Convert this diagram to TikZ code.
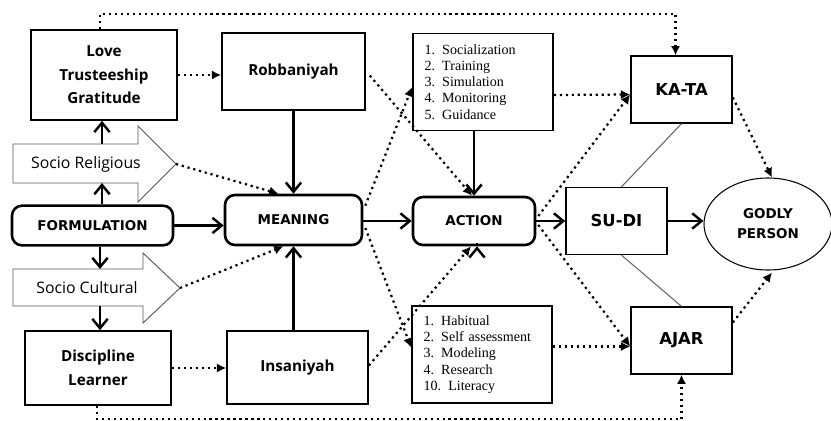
\documentclass[tikz,border=0pt]{standalone}
\usepackage{fontspec}
\setmainfont{Liberation Serif}
\newfontfamily\lblfont{Open Sans}
\newfontfamily\keyfont{DejaVu Sans}
\usetikzlibrary{arrows.meta,shapes.geometric,calc}
\tikzset{
    box/.style={
        draw,
        line width=1.4pt,
        align=center,
        font=\lblfont\bfseries\fontsize{13}{20}\selectfont
    },
    roundbox/.style={
        draw,
        line width=2.2pt,
        rounded corners=3mm,
        align=center,
        font=\keyfont\bfseries\fontsize{11.5}{14}\selectfont
    },
    listbox/.style={
        draw,
        line width=1.4pt,
        align=left,
        text width=3.5cm,
        inner xsep=0.35cm,
        minimum height=2.92cm,
        font=\fontsize{12}{13.8}\selectfont
    },
    keybox/.style={
        draw,
        line width=1.4pt,
        minimum width=3.03cm,
        minimum height=2cm,
        font=\keyfont\bfseries\fontsize{14}{17}\selectfont
    },
    bigarrow/.style={draw=black!65, line width=0.8pt, fill=white},
    sidelbl/.style={font=\lblfont\fontsize{13.5}{15}\selectfont},
    flow/.style={-{Straight Barb[length=2.8mm,width=4.6mm]}, line width=2.1pt},
    dotflow/.style={-{Latex[length=2.8mm,width=2.8mm]}, line width=1.9pt,
        dash pattern=on 1.9pt off 3.2pt},
    link/.style={draw=black!60, line width=0.9pt}
}

\begin{document}
\begin{tikzpicture}[x=0.03cm, y=-0.03cm]
    \useasboundingbox (0,0) rectangle (831,421);
    % left column
    \node[box, minimum width=4.38cm, minimum height=2.7cm] (love) at (104,75)
        {Love\\Trusteeship\\Gratitude};
    \draw[bigarrow] (13,144) -- (138,144) -- (138,126) -- (176,164) -- (138,202)
        -- (138,183) -- (13,183) -- cycle;
    \node[sidelbl] (srel) at (86,164) {Socio Religious};
    \coordinate (srelbot) at (102,183);
    \coordinate (sreltop) at (102,144);
    \coordinate (sreltip) at (176,164);
    \node[roundbox, minimum width=4.83cm, minimum height=1.19cm] (form) at (92.5,225.5)
        {FORMULATION};
    \draw[bigarrow] (13,269) -- (143,269) -- (143,253) -- (180,288) -- (143,323)
        -- (143,306) -- (13,306) -- cycle;
    \node[sidelbl] (scult) at (87,288) {Socio Cultural};
    \coordinate (sculttop) at (100,269);
    \coordinate (scultbot) at (100,306);
    \coordinate (sculttip) at (180,288);
    \node[box, minimum width=4.38cm, minimum height=2.22cm] (disc) at (98,368)
        {Discipline\\Learner};
    % second column
    \node[box, minimum width=4.29cm, minimum height=2.31cm] (robb) at (293.5,71.5)
        {Robbaniyah};
    \node[roundbox, minimum width=4.11cm, minimum height=1.5cm] (meaning) at (293.5,220)
        {MEANING};
    \node[box, minimum width=4.23cm, minimum height=2.19cm] (insan) at (297.5,367.5)
        {Insaniyah};
    % third column
    \node[listbox] (ltop) at (483,82)
        {1. Socialization\\2. Training\\3. Simulation\\4. Monitoring\\5. Guidance};
    \node[roundbox, minimum width=3.66cm, minimum height=1.44cm] (action) at (474,221)
        {ACTION};
    \node[listbox] (lbot) at (482,354.5)
        {1. Habitual\\2. Self assessment\\3. Modeling\\4. Research\\10. Literacy};
    % right part
    \node[keybox] (kata) at (681.5,89.5) {KA-TA};
    \node[keybox] (sudi) at (616.5,221) {SU-DI};
    \node[keybox] (ajar) at (681.5,340.5) {AJAR};
    \node[draw, ellipse, line width=0.9pt, minimum width=3.84cm, minimum height=2.76cm,
        align=center, font=\keyfont\bfseries\fontsize{11.5}{17}\selectfont] (godly) at (768,224)
        {GODLY\\PERSON};

    % solid connectors
    \draw[flow] (form.north -| srelbot) -- (srelbot);
    \draw[flow] (sreltop) -- (sreltop |- love.south);
    \draw[flow] (form.south -| sculttop) -- (sculttop);
    \draw[flow] (scultbot) -- (scultbot |- disc.north);
    \draw[flow] (robb.south) -- (meaning.north);
    \draw[flow] (form.east) -- (form.east -| meaning.west);
    \draw[flow] (meaning.south |- insan.north) -- (meaning.south);
    \draw[flow] (meaning.east |- action.west) -- (action.west);
    \draw[flow] (action.north |- ltop.south) -- (action.north);
    \draw[flow] ($(action.south)+(3,0)$ |- lbot.north) -- ($(action.south)+(3,0)$);
    \draw[flow] (action.east) -- (action.east -| sudi.west);
    \draw[flow] (sudi.east) -- (sudi.east -| godly.west);
    \draw[link] (kata.south) -- ($(sudi.north)+(5,0)$);
    \draw[link] ($(sudi.south)+(5,0)$) -- (ajar.north);

    % dotted connectors
    \draw[dotflow] (love.east) -- (love.east -| robb.west);
    \draw[dotflow] (disc.east) -- (disc.east -| insan.west);
    \draw[dotflow] (sreltip) -- ($(meaning.north)+(-15,0)$);
    \draw[dotflow] (sculttip) -- ($(meaning.south)+(-10,0)$);
    \draw[dotflow] ($(meaning.north east)+(2,12)$) -- ($(ltop.west)+(0,5)$);
    \draw[dotflow] ($(meaning.east)+(2,8)$) -- ($(lbot.west)+(0,-7)$);
    \draw[dotflow] ($(robb.east)+(4,4)$) -- ($(action.north)+(-2,0)$);
    \draw[dotflow] ($(insan.east)+(0,-2)$) -- ($(action.south)+(-3,0)$);
    \draw[dotflow] ($(ltop.east)+(0,13)$) -- ($(kata.west)+(0,5)$);
    \draw[dotflow] ($(action.east)+(2,-5)$) -- ($(kata.west)+(0,5)$);
    \draw[dotflow] ($(action.east)+(2,4)$) -- ($(ajar.west)+(0,6)$);
    \draw[dotflow] ($(lbot.east)+(0,-8)$) -- ($(ajar.west)+(0,6)$);
    \draw[dotflow] ($(kata.east)+(0,8)$) -- ($(godly.north)+(4,0)$);
    \draw[dotflow] ($(ajar.east)+(0,-18)$) -- ($(godly.south)+(4,2)$);
    \draw[dotflow] ($(love.north)+(-4,0)$) -- ++(0,-15) -| ($(kata.north)+(-6,0)$);
    \draw[dotflow] ($(disc.south)+(-1,0)$) -- ++(0,13) -| (ajar.south);
\end{tikzpicture}
\end{document}
